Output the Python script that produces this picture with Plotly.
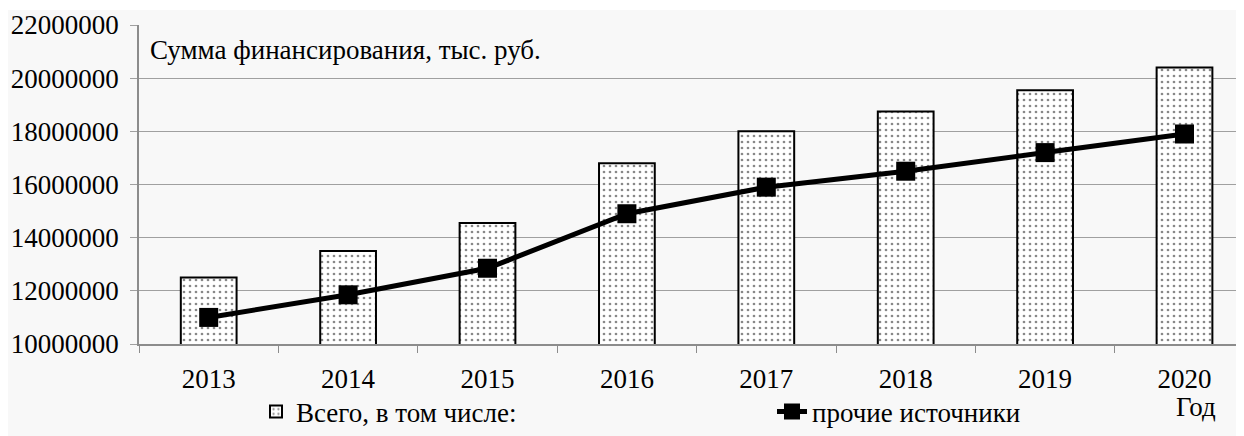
import plotly.graph_objects as go

years = ["2013", "2014", "2015", "2016", "2017", "2018", "2019", "2020"]
total = [12500000, 13500000, 14550000, 16800000, 18000000, 18750000, 19550000, 20400000]
other = [11000000, 11850000, 12850000, 14900000, 15900000, 16500000, 17200000, 17900000]
y_ticks = [10000000, 12000000, 14000000, 16000000, 18000000, 20000000, 22000000]

FONT = "Liberation Serif"
FS = 27
OFF = 8  # page body margin
W, H = 1244 - OFF, 436 - OFF
ML, MR, MT, MB = 139 - OFF, 0, 25 - OFF, 92
pw = W - ML - MR
ph = H - MT - MB


def px_x(x):
    return (x - OFF - ML) / pw


def px_y(y):
    return 1 - (y - OFF - MT) / ph


fig = go.Figure()
fig.add_trace(go.Bar(
    x=years, y=total, name="Всего, в том числе:",
    width=0.4, legend="legend",
    marker=dict(color="#ffffff", line=dict(color="#000000", width=2),
                pattern=dict(shape=".", fgcolor="#111111", bgcolor="#ffffff",
                             size=6, solidity=0.16, fillmode="overlay")),
))
fig.add_trace(go.Scatter(
    x=years, y=other, name="прочие источники", mode="lines+markers",
    legend="legend2",
    line=dict(color="#000000", width=5),
    marker=dict(symbol="square", size=19, color="#000000"),
))

fig.update_layout(
    width=W, height=H,
    margin=dict(l=ML, r=MR, t=MT, b=MB, autoexpand=False),
    paper_bgcolor="#ffffff",
    plot_bgcolor="rgba(0,0,0,0)",
    font=dict(family=FONT, size=FS, color="#000000"),
    showlegend=True,
    legend=dict(x=px_x(256), xanchor="left", y=px_y(412), yanchor="middle",
                font=dict(family=FONT, size=FS), bgcolor="rgba(0,0,0,0)"),
    legend2=dict(x=px_x(772), xanchor="left", y=px_y(412), yanchor="middle",
                 font=dict(family=FONT, size=FS), bgcolor="rgba(0,0,0,0)"),
    shapes=[dict(type="rect", xref="paper", yref="paper",
                 x0=px_x(6), x1=1.01, y0=px_y(440), y1=px_y(10),
                 fillcolor="#f8f8f8", line=dict(width=0), layer="below")],
    annotations=[
        dict(text="Сумма финансирования, тыс. руб.", xref="paper", yref="paper",
             x=px_x(148), y=px_y(50), xanchor="left", yanchor="middle",
             showarrow=False, font=dict(family=FONT, size=FS)),
        dict(text="Год", xref="paper", yref="paper",
             x=px_x(1218), y=px_y(407), xanchor="right", yanchor="middle",
             showarrow=False, font=dict(family=FONT, size=FS)),
    ],
)
fig.update_xaxes(
    range=[-0.5, -0.5 + pw / 139.4], showgrid=False, automargin=False,
    showline=True, linecolor="#8c8c8c", linewidth=1.5,
    ticks="outside", ticklen=7, tickcolor="#8c8c8c", tickson="boundaries",
    ticklabelstandoff=10,
    tickfont=dict(family=FONT, size=FS),
)
fig.update_yaxes(
    range=[10000000, 22000000], tickvals=y_ticks, ticktext=[str(v) for v in y_ticks],
    showgrid=True, gridcolor="#a0a0a0", gridwidth=1.3, automargin=False,
    showline=True, linecolor="#8c8c8c", linewidth=1.5,
    ticks="outside", ticklen=7, tickcolor="#a0a0a0",
    ticklabelstandoff=6,
    tickfont=dict(family=FONT, size=FS), zeroline=False,
)

fig.write_html("out.html")
